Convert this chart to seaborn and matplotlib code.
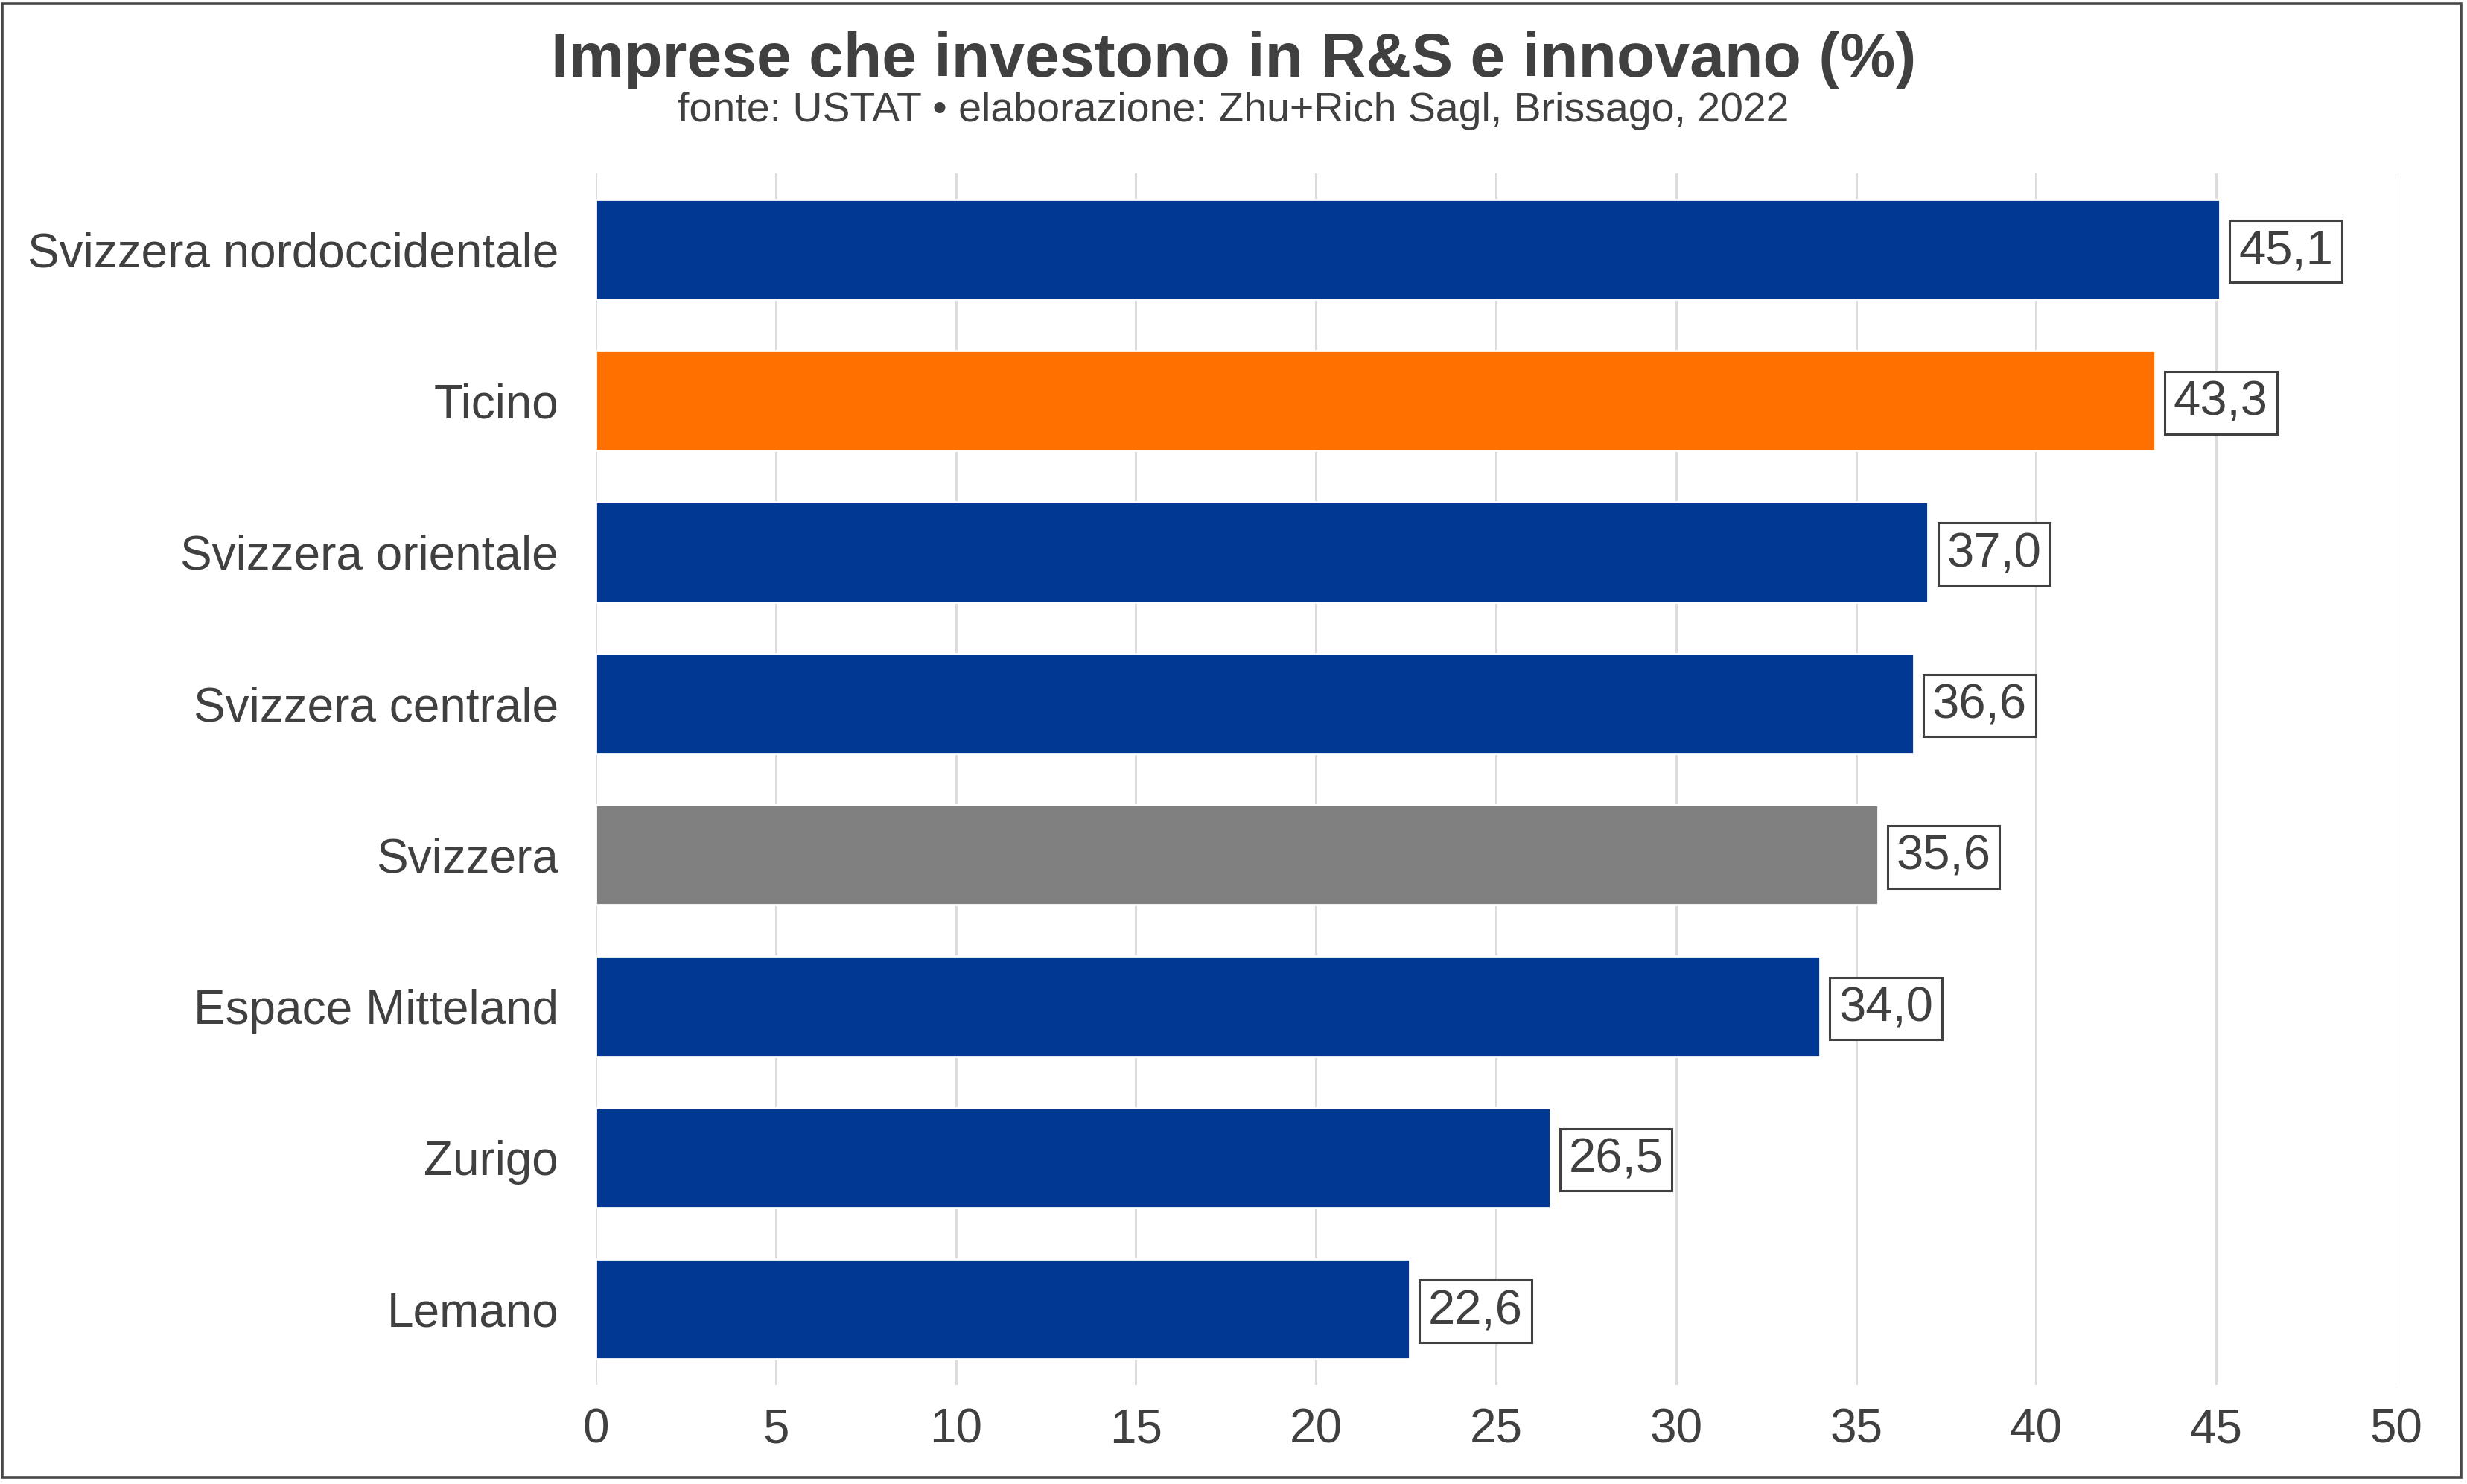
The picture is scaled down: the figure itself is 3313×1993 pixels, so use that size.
import matplotlib
matplotlib.use("Agg")
import matplotlib.pyplot as plt
import seaborn as sns
from matplotlib.patches import Rectangle

categories = ["Svizzera nordoccidentale", "Ticino", "Svizzera orientale",
              "Svizzera centrale", "Svizzera", "Espace Mitteland", "Zurigo", "Lemano"]
values = [45.1, 43.3, 37.0, 36.6, 35.6, 34.0, 26.5, 22.6]
bar_colors = ["#003893", "#FF7000", "#003893", "#003893", "#808080",
              "#003893", "#003893", "#003893"]
x_ticks = [0, 5, 10, 15, 20, 25, 30, 35, 40, 45, 50]
title = "Imprese che investono in R&S e innovano (%)"
subtitle = "fonte: USTAT \u2022 elaborazione: Zhu+Rich Sagl, Brissago, 2022"

TXT = "#404040"
sns.set_theme(style="white")
plt.rcParams['font.family'] = ['Liberation Sans', 'DejaVu Sans']

fig = plt.figure(figsize=(3313 / 200, 1993 / 200), dpi=200)
ax = fig.add_axes([800 / 3313, 1 - 1860 / 1993, (3218 - 800) / 3313, (1860 - 233) / 1993])

sns.barplot(x=values, y=categories, hue=categories, palette=bar_colors,
            legend=False, width=0.66, orient="h", ax=ax, saturation=1)

ax.set_xlim(0, 50)
ax.set_ylim(len(categories) - 0.5, -0.5)
ax.set_xticks(x_ticks)
ax.set_xticklabels([str(t) for t in x_ticks])
ax.xaxis.grid(True, color="#DCDCDC", linewidth=1.1)
ax.yaxis.grid(False)
ax.set_axisbelow(True)
for s in ax.spines.values():
    s.set_visible(False)
ax.tick_params(axis="x", length=0, pad=11, labelsize=23, labelcolor=TXT)
ax.tick_params(axis="y", length=0, pad=18, labelsize=23, labelcolor=TXT)
ax.set_xlabel("")
ax.set_ylabel("")

for i, v in enumerate(values):
    ax.annotate(f"{v:.1f}".replace(".", ","), xy=(v, i), xytext=(9, -1),
                textcoords="offset points", ha="left", va="center",
                fontsize=23.5, color=TXT,
                bbox=dict(boxstyle="square,pad=0.18", fc="white", ec=TXT, lw=1.1))

fig.text(0.5, 1 - 103 / 1993, title, ha="center", va="baseline",
         fontsize=30.3, fontweight="bold", color=TXT)
fig.text(0.5, 1 - 163 / 1993, subtitle, ha="center", va="baseline",
         fontsize=20, color=TXT)

fig.patches.append(Rectangle((3 / 3313, 1 - 1984 / 1993), 3302 / 3313, 1979 / 1993,
                             transform=fig.transFigure, fill=False,
                             ec="#484848", lw=1.3))

fig.savefig("out.png", dpi=200)
